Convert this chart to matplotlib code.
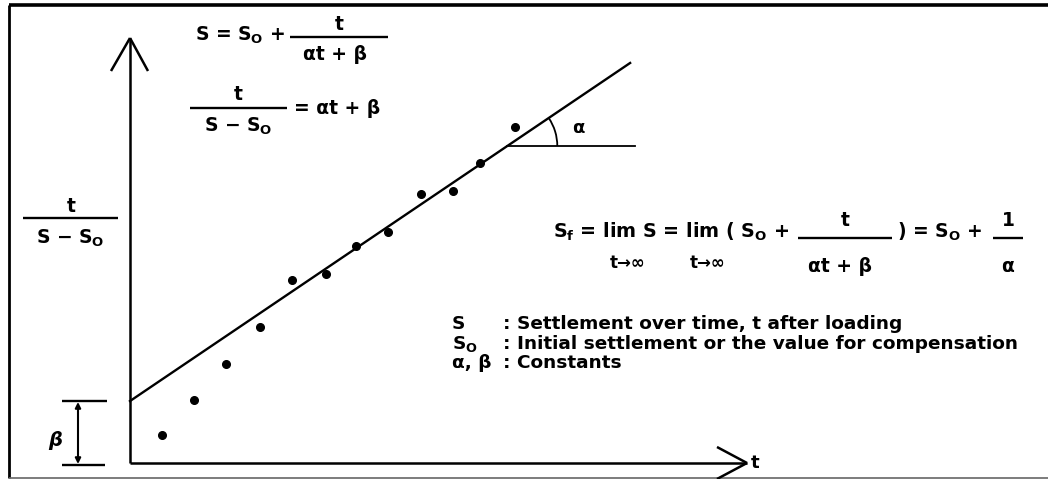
import matplotlib.pyplot as plt
import numpy as np
from matplotlib.patches import Arc

t_points = [1.0, 2.0, 3.0, 4.05, 5.05, 6.1, 7.05, 8.05, 9.05, 10.05, 10.9, 12.0]
ratio_points = [0.87, 1.96, 3.08, 4.24, 5.70, 5.89, 6.76, 7.20, 8.38, 8.47, 9.35, 10.47]

# fitted straight line t/(S-So) = alpha*t + beta
alpha = 0.676
beta = 1.93
t_line_end = 15.58

legend_symbols = ["S", r"S$_\mathbf{O}$", "α, β"]
legend_texts = [": Settlement over time, t after loading",
                ": Initial settlement or the value for compensation",
                ": Constants"]

# where the origin sits in the picture and how big one unit is
X0 = 130
Y0 = 463
UNIT = 32.1
W, H = 1048, 479


def px(x, y):
    # picture pixel -> plot units
    return (x - X0) / UNIT, (Y0 - y) / UNIT


def seg(ax, p1, p2, lw=1.8, color='black'):
    a = px(*p1)
    b = px(*p2)
    ax.plot([a[0], b[0]], [a[1], b[1]], color=color, lw=lw, solid_capstyle='butt')


def txt(ax, x, y, s, size=13.5, ha='left', **kw):
    ax.text(*px(x, y), s, fontsize=size, ha=ha, va='center', color='black',
            fontweight='bold', **kw)


def main():
    plt.rcParams['font.family'] = ['DejaVu Sans']
    plt.rcParams['mathtext.fontset'] = 'dejavusans'

    fig = plt.figure(figsize=(W / 100, H / 100), dpi=100)
    ax = fig.add_axes([0, 0, 1, 1])
    ax.set_xlim(-X0 / UNIT, (W - X0) / UNIT)
    ax.set_ylim(-(H - Y0) / UNIT, Y0 / UNIT)
    ax.axis('off')

    # frame
    seg(ax, (9, 5), (W, 5), lw=2.6)
    seg(ax, (9, 5), (9, 478), lw=2.0)
    seg(ax, (9, 477.5), (W, 477.5), lw=1.2, color='#666666')

    # axes with open arrow heads
    seg(ax, (130, 463), (130, 38))
    seg(ax, (130, 38), (111, 71))
    seg(ax, (130, 38), (148, 71))
    seg(ax, (130, 463), (747, 463))
    seg(ax, (747, 463), (717, 447))
    seg(ax, (747, 463), (717, 479))
    txt(ax, 751, 463, "t", size=13)

    # fitted line and the points
    t_line = np.array([0, t_line_end])
    ax.plot(t_line, alpha * t_line + beta, color='black', lw=1.7)
    ax.plot(t_points, ratio_points, 'o', color='black', markersize=5.5)

    # angle alpha
    y_h = (Y0 - 146) / UNIT
    t_cross = (y_h - beta) / alpha
    ax.plot([t_cross, px(635, 0)[0]], [y_h, y_h], color='black', lw=1.3)
    r = 50 / UNIT
    ax.add_patch(Arc((t_cross, y_h), 2 * r, 2 * r, theta1=0,
                     theta2=np.degrees(np.arctan(alpha)), color='black', lw=1.3))
    txt(ax, 572, 128, "α", size=13)

    # beta dimension
    seg(ax, (62, 401), (107, 401), lw=1.7)
    seg(ax, (62, 465), (105, 465), lw=1.7)
    ax.annotate("", xy=px(78, 402), xytext=px(78, 464),
                arrowprops=dict(arrowstyle='<|-|>', color='black', lw=1.5,
                                mutation_scale=8, shrinkA=0, shrinkB=0))
    txt(ax, 55, 440, "β", size=14, ha='center', style='italic')

    # y label
    txt(ax, 71, 207, "t", ha='center')
    seg(ax, (23, 218), (118, 218), lw=1.7)
    txt(ax, 70, 238, r"S − S$_\mathbf{O}$", ha='center')

    # formula 1
    txt(ax, 195, 35, r"S = S$_\mathbf{O}$ +")
    txt(ax, 339, 25, "t", ha='center')
    seg(ax, (290, 37), (388, 37), lw=1.7)
    txt(ax, 335, 54, "αt + β", ha='center')

    # formula 2
    txt(ax, 238, 94, "t", ha='center')
    seg(ax, (190, 108), (287, 108), lw=1.7)
    txt(ax, 238, 126, r"S − S$_\mathbf{O}$", ha='center')
    txt(ax, 294, 109, "= αt + β")

    # limit formula
    txt(ax, 553, 232, r"S$_\mathbf{f}$ = lim S = lim ( S$_\mathbf{O}$ +", size=13.8)
    txt(ax, 628, 263, "t→∞", size=12, ha='center')
    txt(ax, 708, 263, "t→∞", size=12, ha='center')
    txt(ax, 845, 221, "t", ha='center')
    seg(ax, (798, 238), (892, 238), lw=1.7)
    txt(ax, 840, 267, "αt + β", ha='center')
    txt(ax, 897, 232, r") = S$_\mathbf{O}$ +")
    txt(ax, 1008, 221, "1", ha='center')
    seg(ax, (993, 238), (1023, 238), lw=1.7)
    txt(ax, 1008, 267, "α", ha='center')

    # legend of symbols
    rows_y = [324, 344, 363]
    for sym, desc, yy in zip(legend_symbols, legend_texts, rows_y):
        txt(ax, 452, yy, sym, size=13.3)
        txt(ax, 503, yy, desc, size=13.3)

    fig.savefig("out.png", dpi=100)


if __name__ == "__main__":
    main()
